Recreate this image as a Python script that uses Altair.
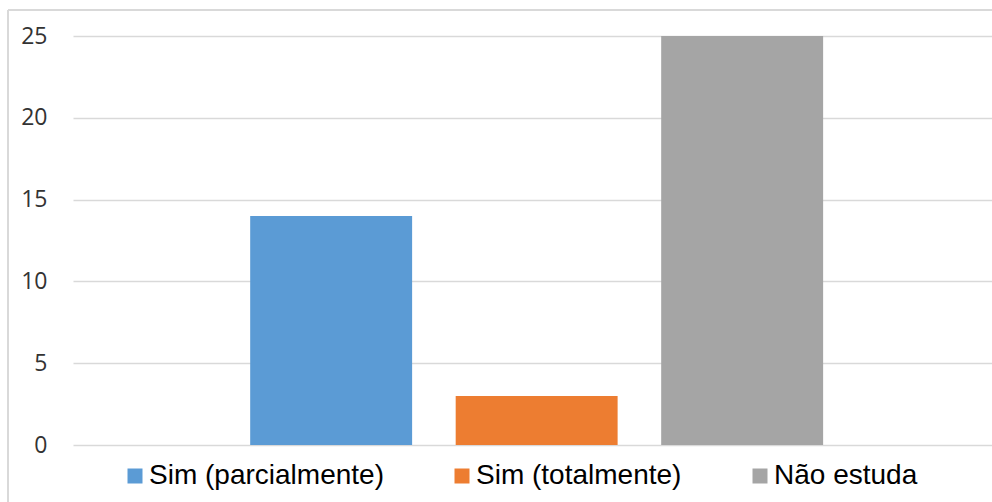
import altair as alt
import pandas as pd

series = ["Sim (parcialmente)", "Sim (totalmente)", "Não estuda"]
values = [14, 3, 25]
colors = ["#5B9BD5", "#ED7D31", "#A5A5A5"]
y_ticks = [0, 5, 10, 15, 20, 25]

df = pd.DataFrame({"serie": series, "valor": values})

W, H = 919, 409

bars = alt.Chart(df).mark_bar().encode(
    x=alt.X("serie:N", sort=series, axis=None,
            scale=alt.Scale(paddingInner=0.212, paddingOuter=0.842, align=0.512)),
    y=alt.Y("valor:Q", title=None,
            scale=alt.Scale(domain=[0, 25], nice=False),
            axis=alt.Axis(values=y_ticks, grid=True, gridColor="#d9d9d9", gridWidth=1.3,
                          domain=False, ticks=False, labelFont="Open Sans",
                          labelFontSize=23, labelColor="#333333", labelPadding=26)),
    color=alt.Color("serie:N", sort=series,
                    scale=alt.Scale(domain=series, range=colors),
                    legend=alt.Legend(title=None, orient="none", direction="horizontal",
                                      legendX=48, legendY=426, symbolType="square",
                                      symbolSize=225, symbolStrokeWidth=0,
                                      labelFont="Liberation Sans", labelFontSize=28,
                                      labelColor="#000000", columnPadding=64,
                                      labelOffset=0, labelLimit=400)),
)

frame_top = alt.Chart(df).mark_rule(color="#d9d9d9", strokeWidth=1.5).encode(
    x=alt.value(-65), x2=alt.value(W + 10), y=alt.value(-26))
frame_left = alt.Chart(df).mark_rule(color="#d9d9d9", strokeWidth=1.5).encode(
    x=alt.value(-65), y=alt.value(-26), y2=alt.value(H + 70))

chart = alt.layer(bars, frame_top, frame_left).properties(
    width=W, height=H,
    background="white",
    autosize=alt.AutoSizeParams(type="none"),
    padding={"left": 73, "top": 36, "right": 0, "bottom": 57},
).configure_view(strokeWidth=0, stroke="transparent")

chart.save("out.html", embed_options={"renderer": "svg", "actions": False})
